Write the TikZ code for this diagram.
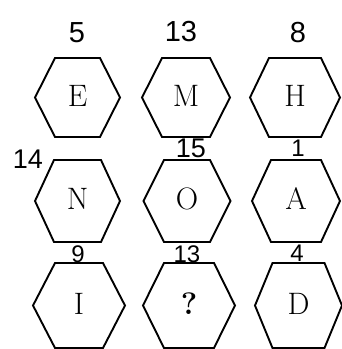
\documentclass[tikz,border=0pt]{standalone}
\usepackage{fontspec}
\newfontfamily\handfont{Liberation Sans}
\begin{document}
\begin{tikzpicture}[x=1pt,y=-1pt,
  hexline/.style={draw=black,line width=1.9pt,line join=miter},
  lett/.style={inner sep=0pt,font=\fontsize{31}{31}\selectfont},
  num/.style={inner sep=0pt,font=\handfont\fontsize{29}{29}\selectfont},
  nummid/.style={inner sep=0pt,font=\handfont\fontsize{27}{27}\selectfont},
  numsmall/.style={inner sep=0pt,font=\handfont\fontsize{24}{24}\selectfont}]
\useasboundingbox (0,0) rectangle (342,349);
\newcommand\hexcell[7]{%
  \draw[hexline] (#2-#5,#3) -- (#2-#4,#3-#6) -- (#2+#4,#3-#6) -- (#2+#5,#3)
     -- (#2+#4,#3+#6) -- (#2-#4,#3+#6) -- cycle;
  \node[lett] (#1) at (#2,#3-2) {#7};}
% row 1
\hexcell{E}{77.5}{97.5}{22.5}{42.5}{39.5}{E}
\hexcell{M}{186}{97.5}{24}{44}{39.5}{M}
\hexcell{H}{295}{97.5}{26}{45}{39.5}{H}
% row 2
\hexcell{N}{77.5}{201}{23.5}{42.5}{41}{N}
\hexcell{O}{187}{201}{23}{43.5}{41}{O}
\hexcell{A}{296}{201}{25}{44}{41}{A}
% row 3
\hexcell{I}{79}{305.5}{24}{46}{42.5}{I}
\hexcell{Q}{189}{305.5}{25}{46}{42.5}{\textbf{?}}
\hexcell{D}{298.5}{305.5}{26}{43.5}{42.5}{D}
% numbers
\node[num] (n5) at (77,33) {5};
\node[num] (n13a) at (181,32) {13};
\node[num] (n8) at (298,33) {8};
\node[nummid] (n14) at (28,159) {14};
\node[nummid] (n15) at (191,148) {15};
\node[numsmall] (n1) at (298,148) {1};
\node[numsmall] (n9) at (78,254) {9};
\node[numsmall] (n13b) at (187,254) {13};
\node[numsmall] (n4) at (297,253) {4};
\end{tikzpicture}
\end{document}
